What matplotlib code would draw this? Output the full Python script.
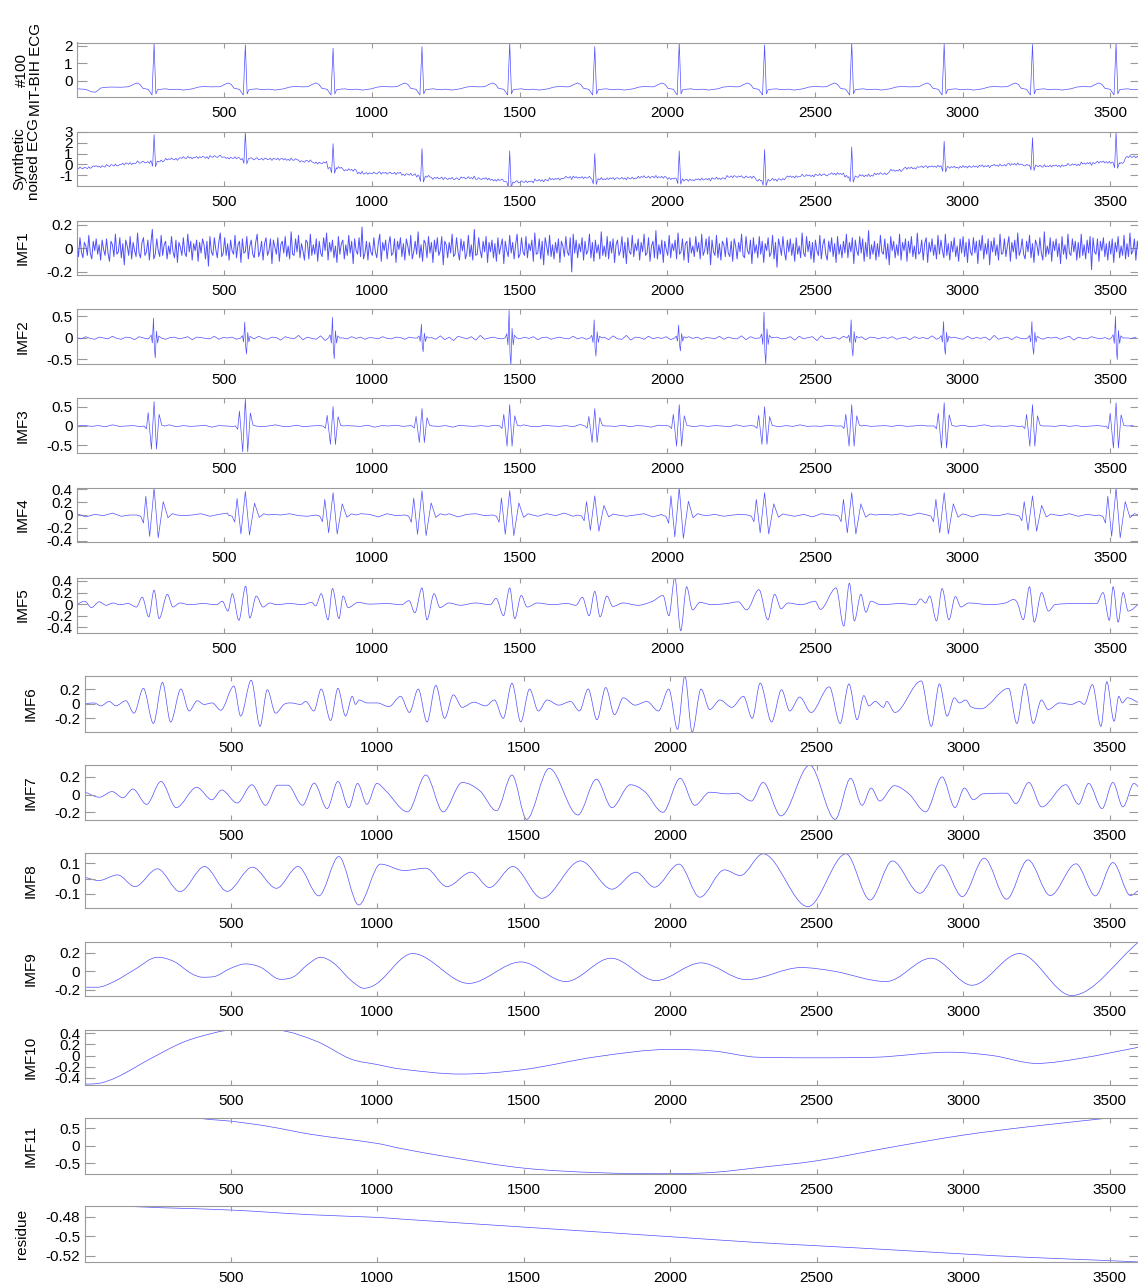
import numpy as np
import matplotlib.pyplot as plt
from matplotlib.path import Path
from matplotlib.patches import PathPatch

plt.rcParams['font.family'] = ['Liberation Sans', 'DejaVu Sans']
plt.rcParams['axes.unicode_minus'] = False

W, H = 1138, 1287
BLUE = '#5050ff'
GRAY = '#9a9a9a'
LW = 0.5

# R-peak sample positions of the record segment
beats = [262, 571, 868, 1169, 1466, 1754, 2040, 2329, 2624, 2937, 3236, 3519]

# --- clean ECG: one beat shape around each R peak ---
ecg_peak = [2.10, 2.04, 1.85, 1.94, 2.13, 1.94, 2.17, 2.04, 2.17, 2.10, 2.06, 2.13]
ecg_lead = [(1, -0.45), (30, -0.48), (50, -0.62), (64, -0.64), (82, -0.40),
            (110, -0.35), (150, -0.36), (172, -0.34)]
ecg_off = [-85, -70, -58, -48, -38, -20, -7, 6, 12, 25, 40, 55, 80, 100, 130, 150, 170, 194]
ecg_val = [-0.33, -0.20, -0.12, -0.20, -0.42, -0.48, -0.80, -0.74, -0.50, -0.47,
           -0.45, -0.50, -0.47, -0.52, -0.45, -0.35, -0.32, -0.34]

# --- noised ECG: local level every 50 samples, R peaks ---
noisy_level = [-0.32, -0.18, -0.08, 0.08, 0.20, 0.30, 0.50, 0.62, 0.66, 0.72,
               0.60, 0.55, 0.50, 0.50, 0.45, 0.30, 0.15, -0.30, -0.50, -0.80,
               -0.78, -0.80, -0.92, -1.10, -1.25, -1.30, -1.22, -1.30, -1.42, -1.60,
               -1.58, -1.45, -1.32, -1.18, -1.20, -1.33, -1.28, -1.27, -1.15, -1.15,
               -1.30, -1.42, -1.36, -1.28, -1.10, -1.15, -1.45, -1.38, -1.12, -1.02,
               -0.95, -0.85, -1.12, -1.02, -0.85, -0.55, -0.33, -0.20, -0.18, -0.25,
               -0.20, -0.15, -0.08, 0.02, -0.05, -0.15, -0.12, -0.02, 0.10, 0.22,
               0.15, 0.70]
noisy_peak = [2.73, 2.97, 1.90, 1.45, 1.24, 1.00, 1.24, 1.36, 1.60, 2.12, 2.45, 2.97]

# --- IMF1, every 5 samples (x 0.01) ---
imf1 = [4, -7, 9, -3, -8, 5, 2, -6, 11, -4, -9, 6, -2, 8, -5, 3, -10, 7, -1, -6,
        8, -4, -11, 6, 3, -7, 12, -5, -3, 9, -8, 4, -14, 7, 2, -6, 10, -9, 5, -2,
        -7, 13, -4, -8, 5, 9, -6, -3, 7, -10, 4, 16, -9, -5, 8, -2, -7, 11, -6, 3,
        6, -9, 2, -5, 10, -3, -8, 7, -12, 5, 1, -6, 9, -4, -7, 12, -3, 6, -10, 4,
        -2, 7, -11, 5, -4, 8, 3, -9, 6, -15, 10, -3, -6, 9, -1, -8, 5, 13, -7, -4,
        9, -6, 4, -10, 7, -2, -5, 11, -8, 3, 6, -12, 8, -4, -3, 10, -9, 2, 7, -5,
        -8, 5, 12, -7, -3, 6, -10, 4, 9, -6, -2, 8, -13, 7, 1, -5, 9, -11, 3, 6,
        -4, 10, -7, 2, -9, 14, -5, -6, 8, -3, 11, -8, 4, -2, -10, 7, 5, -9, 12, -6,
        3, -5, 8, -11, 6, -4, -7, 9, -2, 13, -10, 5, -3, 7, -8, 2, -12, 10, -5, 4,
        7, -9, 3, -6, 11, -4, 6, -13, 8, -2, -5, 9, -7, 18, -9, -4, 6, -10, 5, -3,
        -6, 9, -3, -8, 4, 12, -11, 5, -2, 7, -9, 3, 10, -6, -4, 8, -12, 6, -1, 9,
        -7, 4, -10, 8, 2, -6, 11, -9, -3, 6, -5, 14, -8, 3, -11, 7, 4, -8, 10, -4,
        5, -12, 7, -3, 9, -6, -2, 10, -14, 6, 3, -8, 5, -4, 12, -7, -5, 9, -3, -10,
        8, -2, 6, -9, -4, 11, -7, 3, -10, 16, -6, -5, 9, -2, -8, 6, -3, 10, -12, 5,
        -3, 7, -8, 4, -11, 9, -5, 2, 8, -13, 6, -2, -7, 11, -4, 5, -9, 3, 12, -8,
        -5, 9, -3, -6, 10, -8, 4, -2, 7, -11, 13, -5, -4, 8, -9, 6, -14, 9, 2, -6,
        11, -7, 3, -9, 5, -4, 8, -12, 6, 2, -7, 10, -3, -6, 9, -20, 12, -4, 7, -8,
        4, -3, 9, -10, 6, -5, -2, 12, -8, 5, -11, 7, -4, 3, -9, 14, -6, 2, -7, 10,
        -9, 6, -4, 8, -12, 3, 7, -6, -2, 10, -8, 5, -13, 9, -3, -5, 11, -7, 4, -2,
        8, -10, 5, -3, 12, -6, -4, 9, -11, 2, 6, -8, 15, -9, 3, -5, 7, -12, 6, -1,
        -6, 11, -8, 4, -2, 7, -9, 13, -5, -3, 8, -10, 4, 6, -12, 9, -4, 2, -7, 10,
        -3, 5, -9, 12, -6, -2, 8, -5, 10, -14, 7, -3, -6, 11, -8, 4, -10, 6, 3, -7,
        9, -4, -7, 6, -11, 8, 2, -9, 5, -3, 12, -6, -8, 10, -2, -5, 7, -13, 9, -4,
        3, -8, 10, -5, 6, -12, 4, -2, 9, -7, -4, 11, -9, 5, -16, 8, 2, -6, 10, -3,
        -10, 7, -3, 8, -6, 4, -11, 9, -5, 2, -8, 13, -4, -7, 10, -3, 6, -9, 5, -12,
        7, -2, -6, 11, -9, 3, 8, -5, -10, 6, -3, 9, -7, 4, -12, 10, -5, 3, -8, 6,
        -4, 12, -8, 5, -3, 9, -13, 7, -2, -6, 10, -4, 8, -11, 5, -7, 15, -9, 3, -5,
        6, -10, 4, -7, 11, -3, -5, 8, -9, 4, -14, 10, -2, 6, -8, 3, -6, 12, -10, 5,
        -2, 8, -11, 6, -4, 10, -7, 2, -9, 13, -5, -3, 7, -10, 4, 9, -12, 5, -3, 8,
        -6, 3, -9, 11, -5, 7, -2, -8, 12, -6, 4, -10, 6, -3, 9, -7, 2, -11, 8, -4,
        10, -7, 5, -12, 8, -3, -6, 9, -4, 6, -13, 7, -2, 11, -9, 4, -5, 8, -14, 6,
        -3, 9, -6, 3, -10, 12, -5, -4, 8, -7, 2, 10, -11, 5, -3, 7, -9, 13, -6, -2,
        8, -5, -9, 6, -3, 11, -8, 4, -12, 7, 3, -6, 9, -4, -10, 14, -7, 2, -5, 9,
        -11, 6, -2, 8, -7, 4, -13, 10, -5, 3, -9, 12, -4, -6, 8, -3, 6, -10, 5, -8,
        12, -6, 3, -9, 7, -4, 10, -18, 9, -3, -5, 8, -11, 6, -2, 9, -7, 4, -10, 6,
        -5, 8, -12, 5, -3, 10, -8, 2, -6, 11, -9, 4, -7, 13, -5, -2, 8, -10, 6, -4]

# --- IMF2: background every 15 samples (x 0.01) and QRS bursts ---
imf2_bg = [1, -2, 3, -1, -3, 2, 0, -2, 4, -1, -3, 2, 1, -4, 3, 0, -2, 2, -1, 3,
           -3, 1, 2, -2, 0, 3, -4, 2, 1, -1, -2, 4, -3, 1, 0, 2, -3, 1, 2, -1,
           -2, 4, -1, -3, 2, 1, -5, 3, 0, -2, 6, -4, 2, -1, -3, 5, -6, 4, -2, 1,
           0, -2, 3, -1, 2, -3, 1, 0, -2, 3, -1, -2, 2, 1, -3, 2, 0, -1, 3, -2,
           1, -3, 5, -4, 2, -6, 4, 1, -2, 3, -5, 6, -3, 0, 2, -1, -2, 3, -1, 1,
           -2, 2, -1, 3, -4, 1, 2, -3, 0, 2, -1, -2, 4, -2, 1, -3, 2, 0, -1, 2,
           -4, 5, -2, -3, 6, -5, 2, 1, -3, 4, -2, 1, -1, 3, -4, 2, 0, -2, 3, -1,
           2, -3, 1, 0, -2, 4, -3, 2, -1, -2, 5, -4, 3, -1, 0, 2, -3, 1, 2, -2,
           -1, 3, -5, 4, -2, 1, 3, -6, 5, -2, -1, 2, -3, 4, -1, 0, -2, 3, -4, 2,
           1, -2, 2, -1, 3, -3, 0, 2, -4, 3, -1, 1, -2, 5, -3, 1, 0, -2, 2, -1,
           -3, 4, -2, 1, -1, 2, -5, 6, -3, 0, 2, -4, 3, -1, -2, 3, -1, 2, -3, 1,
           0, 2, -3, 1, 4, -5, 2, -1, -2, 3, 0, -2, 1, -3, 4, -2, 1, 0, -1, 2]
imf2_off = [-16, -10, -6, -2, 1, 4, 8, 12, 16, 24]
imf2_shape = [0.0, 0.15, -0.25, 1.0, -0.55, -1.0, 0.35, -0.25, 0.10, 0.0]
imf2_amp = [0.46, 0.37, 0.48, 0.32, 0.64, 0.42, 0.30, 0.60, 0.42, 0.38, 0.38, 0.50]

# --- IMF3 ---
imf3_bg = [0, 2, -1, 1, -2, 3, -1, 0, 1, -2, 2, 0, -1, 3, -2,
           1, -1, 0, 2, -3, 1, 0, -1, 2, -1, 1, -2, 0, 3, -1,
           -1, 2, -2, 0, 1, -1, 3, -2, 1, 0, -1, 2, -3, 1, 0,
           2, -1, 1, -2, 0, 2, -1, 1, -3, 2, 0, -1, 1, -1, 2,
           -2, 1, 0, 3, -1, -2, 2, 0, -1, 1, -2, 4, -1, 0, 1,
           0, -1, 2, -2, 1, 0, -3, 2, 1, -1, 0, 2, -2, 1, -1,
           1, 0, -2, 3, -1, 1, -1, 0, 2, -2, 1, -1, 3, -1, 0,
           -1, 2, 0, -1, 1, -3, 2, -1, 0, 1, -1, 2, -1, 0, 2,
           0, -2, 1, 1, -1, 2, -2, 0, 3, -1, 0, -1, 1, -2, 1,
           2, -1, 0, -1, 2, -1, 1, -2, 0, 1, -1, 2, 0, -2, 1]
imf3_off = [-34, -26, -20, -9, 0, 8, 17, 26, 36]
imf3_shape = [0.0, -0.12, 0.55, -0.95, 1.0, -0.95, 0.48, 0.03, 0.0]
imf3_amp = [0.63, 0.70, 0.50, 0.45, 0.55, 0.45, 0.55, 0.50, 0.55, 0.60, 0.55, 0.60]

# --- IMF4 ---
imf4_bg = [2, -3, 1, -1, 3, -2, 0, 2, -1, 1, -3, 2, -1, 0, 2,
           -2, 1, 3, -2, -1, 2, -3, 1, 0, 2, -1, -2, 3, -1, 1,
           0, -2, 2, 1, -3, 2, -1, 0, 3, -2, 1, -1, 2, -3, 1,
           2, -1, -2, 3, -1, 1, 0, -2, 2, -1, 3, -2, 0, 1, -1,
           -1, 3, -2, 0, 2, -3, 1, 2, -1, -2, 3, -1, 1, -2, 0,
           1, -2, 3, -1, 0, 2, -2, 1, -3, 2, 0, -1, 2, -2, 1,
           -2, 1, 0, 2, -1, 3, -2, 0, 1, -1, 2, -3, 1, 0, -1,
           2, -1, 1, -3, 2, 0, -1, 2, -2, 1, -1, 3, -2, 1, 0]
imf4_off = [-58, -45, -36, -28, -15, 0, 14, 31, 47, 62, 78]
imf4_shape = [0.0, -0.05, -0.30, 0.70, -0.80, 1.0, -0.85, 0.50, -0.10, 0.05, 0.0]
imf4_amp = [0.42, 0.37, 0.35, 0.38, 0.38, 0.30, 0.43, 0.35, 0.35, 0.35, 0.30, 0.42]

# --- IMF5 .. residue: turning points (sample, value) ---
imf5 = [(1, 0.0), (27, 0.05), (50, -0.06), (76, 0.04), (100, -0.02), (123, 0.02), (146, -0.01),
        (174, 0.01), (202, -0.05), (222, 0.12), (244, -0.22), (262, 0.24), (279, -0.25),
        (307, 0.17), (326, -0.05), (349, 0.02), (383, -0.01), (428, 0.01), (473, -0.01),
        (493, 0.05), (512, -0.12), (527, 0.18), (549, -0.28), (572, 0.31), (586, -0.24),
        (608, 0.14), (631, -0.05), (654, 0.02), (676, -0.01), (721, 0.01), (766, -0.01),
        (795, 0.03), (809, -0.03), (828, 0.18), (851, -0.27), (866, 0.27), (888, -0.25),
        (902, 0.14), (919, -0.06), (953, 0.03), (992, 0.0), (1049, 0.01), (1100, -0.01),
        (1125, 0.06), (1145, -0.15), (1169, 0.28), (1186, -0.27), (1210, 0.18), (1230, -0.06),
        (1260, 0.02), (1300, -0.02), (1350, 0.02), (1400, -0.01), (1420, 0.10), (1445, -0.20),
        (1466, 0.28), (1483, -0.25), (1505, 0.15), (1525, -0.05), (1560, 0.02), (1610, -0.01),
        (1660, 0.01), (1690, -0.02), (1712, 0.12), (1735, -0.20), (1754, 0.22), (1772, -0.22),
        (1795, 0.14), (1815, -0.04), (1850, 0.02), (1900, -0.02), (1950, 0.05), (1985, 0.15),
        (2005, -0.20), (2025, 0.46), (2045, -0.46), (2065, 0.30), (2085, -0.10), (2110, 0.03),
        (2150, -0.01), (2200, 0.01), (2240, 0.04), (2268, -0.10), (2310, 0.25), (2340, -0.27),
        (2363, 0.17), (2385, -0.08), (2408, 0.02), (2453, -0.01), (2500, 0.05), (2518, -0.09),
        (2571, 0.28), (2597, -0.38), (2616, 0.36), (2633, -0.29), (2655, 0.17), (2672, -0.14),
        (2689, 0.05), (2722, -0.01), (2790, 0.01), (2840, -0.01), (2857, 0.09), (2874, 0.02),
        (2888, 0.14), (2911, -0.29), (2930, 0.27), (2953, -0.27), (2975, 0.13), (2994, -0.05),
        (3020, 0.02), (3093, -0.01), (3144, 0.02), (3172, 0.08), (3185, 0.02), (3205, -0.27),
        (3226, 0.30), (3242, -0.31), (3267, 0.20), (3290, -0.12), (3312, -0.01), (3380, 0.01),
        (3453, 0.01), (3475, 0.20), (3496, -0.28), (3509, 0.30), (3526, -0.31), (3543, 0.20),
        (3560, -0.12), (3600, 0.02)]

imf6 = [(1, 0.0), (34, 0.01), (57, -0.03), (85, 0.03), (108, -0.03), (142, 0.04), (170, -0.13),
        (202, 0.21), (236, -0.27), (267, 0.29), (295, -0.25), (330, 0.20), (358, -0.10),
        (386, 0.04), (409, -0.01), (437, 0.01), (466, -0.09), (511, 0.24), (534, -0.17),
        (570, 0.32), (600, -0.31), (625, 0.19), (653, -0.13), (682, -0.01), (705, 0.01),
        (739, -0.01), (756, 0.03), (784, -0.10), (809, 0.20), (841, -0.23), (866, 0.21),
        (892, -0.17), (915, 0.10), (926, -0.01), (938, 0.05), (966, 0.01), (1000, 0.01),
        (1040, -0.04), (1080, 0.10), (1110, -0.12), (1140, 0.20), (1170, -0.25), (1200, 0.25),
        (1230, -0.20), (1260, 0.12), (1290, -0.05), (1330, 0.02), (1370, -0.03), (1400, 0.05),
        (1430, -0.20), (1460, 0.28), (1490, -0.25), (1520, 0.20), (1550, -0.10), (1580, 0.05),
        (1620, -0.02), (1660, 0.03), (1690, -0.10), (1720, 0.20), (1750, -0.22), (1780, 0.22),
        (1810, -0.15), (1840, 0.08), (1880, -0.02), (1920, 0.03), (1960, -0.10), (1995, 0.20),
        (2025, -0.35), (2050, 0.38), (2075, -0.39), (2105, 0.20), (2135, -0.08), (2170, 0.05),
        (2210, -0.05), (2250, 0.10), (2280, -0.20), (2307, 0.28), (2346, -0.25), (2380, 0.19),
        (2408, -0.10), (2442, 0.09), (2481, -0.12), (2543, 0.23), (2580, -0.27), (2610, 0.27),
        (2638, -0.22), (2661, 0.11), (2678, -0.03), (2700, 0.03), (2728, -0.05), (2739, 0.03),
        (2767, -0.12), (2857, 0.31), (2891, -0.31), (2919, 0.27), (2945, -0.17), (2970, 0.08),
        (2987, 0.01), (3009, 0.05), (3026, -0.04), (3060, -0.07), (3155, 0.21), (3183, -0.27),
        (3211, 0.27), (3239, -0.27), (3267, 0.05), (3290, -0.08), (3329, 0.01), (3369, -0.01),
        (3397, 0.03), (3413, -0.01), (3441, 0.26), (3470, -0.31), (3490, 0.30), (3515, -0.24),
        (3531, 0.10), (3543, 0.01), (3560, 0.08), (3600, 0.01)]

imf7 = [(1, 0.03), (52, -0.03), (95, 0.033), (132, -0.037), (166, 0.062), (213, -0.11),
        (262, 0.147), (314, -0.147), (384, 0.081), (436, -0.059), (469, 0.051), (522, -0.095),
        (572, 0.11), (619, -0.121), (660, 0.105), (695, 0.105), (745, -0.121), (785, 0.128),
        (829, -0.158), (866, 0.147), (903, -0.147), (933, 0.125), (965, -0.11), (999, 0.125),
        (1030, 0.04), (1104, -0.195), (1166, 0.22), (1225, -0.195), (1290, 0.136), (1351, 0.04),
        (1407, -0.183), (1460, 0.22), (1510, -0.279), (1587, 0.294), (1685, -0.23), (1748, 0.172),
        (1801, -0.147), (1864, 0.11), (1914, 0.03), (1975, -0.2), (2034, 0.183), (2084, -0.121),
        (2135, 0.026), (2198, 0.007), (2227, 0.015), (2277, -0.073), (2317, 0.136), (2378, -0.24),
        (2476, 0.33), (2563, -0.279), (2616, 0.183), (2655, -0.121), (2686, 0.073), (2715, -0.073),
        (2765, 0.099), (2815, 0.007), (2872, -0.195), (2928, 0.198), (2972, -0.147), (3004, 0.073),
        (3035, -0.059), (3067, 0.007), (3149, 0.015), (3180, -0.103), (3224, 0.136), (3268, -0.139),
        (3350, 0.11), (3394, -0.11), (3428, 0.125), (3474, -0.158), (3511, 0.136), (3545, -0.139),
        (3583, 0.125), (3600, 0.08)]

imf8 = [(1, 0.009), (50, -0.013), (114, 0.024), (173, -0.053), (250, 0.064), (327, -0.086),
        (411, 0.079), (488, -0.084), (574, 0.075), (656, -0.064), (730, 0.079), (801, -0.114),
        (869, 0.145), (937, -0.174), (1011, 0.095), (1092, 0.053), (1166, 0.068), (1238, -0.053),
        (1321, 0.042), (1383, -0.059), (1463, 0.079), (1562, -0.13), (1694, 0.116), (1801, -0.07),
        (1883, 0.042), (1946, -0.057), (2030, 0.095), (2101, -0.123), (2185, 0.057), (2239, 0.02),
        (2317, 0.163), (2470, -0.185), (2600, 0.163), (2682, -0.141), (2758, 0.116), (2852, -0.097),
        (2927, 0.09), (2997, -0.119), (3072, 0.134), (3148, -0.136), (3221, 0.123), (3297, -0.112),
        (3385, 0.097), (3451, -0.114), (3511, 0.105), (3571, -0.112), (3600, -0.075)]

imf9 = [(1, -0.171), (45, -0.171), (102, -0.11), (170, 0.014), (250, 0.15), (307, 0.104),
        (364, -0.021), (405, -0.064), (443, -0.057), (500, 0.032), (551, 0.079), (602, 0.043),
        (670, -0.086), (716, -0.057), (761, 0.068), (807, 0.15), (852, 0.086), (909, -0.093),
        (955, -0.182), (1000, -0.129), (1121, 0.19), (1312, -0.13), (1490, 0.10), (1644, -0.11),
        (1798, 0.14), (1951, -0.10), (2105, 0.09), (2259, -0.09), (2447, 0.04), (2560, 0.0),
        (2737, -0.11), (2891, 0.14), (3030, -0.15), (3192, 0.19), (3370, -0.26), (3600, 0.317)]

imf10 = [(1, -0.51), (45, -0.50), (114, -0.38), (227, -0.054), (341, 0.245), (455, 0.42),
         (500, 0.455), (580, 0.465), (659, 0.455), (795, 0.25), (909, -0.06), (1000, -0.16),
         (1080, -0.24), (1285, -0.33), (1500, -0.25), (1750, -0.02), (2000, 0.11), (2150, 0.08),
         (2300, -0.03), (2500, -0.04), (2700, -0.03), (2950, 0.06), (3100, 0.0), (3250, -0.14),
         (3400, -0.05), (3600, 0.15)]

imf11 = [(1, 0.81), (358, 0.81), (432, 0.75), (500, 0.705), (625, 0.56), (773, 0.33),
         (1000, 0.067), (1080, -0.076), (1250, -0.33), (1500, -0.64), (1750, -0.77),
         (2000, -0.80), (2150, -0.76), (2306, -0.62), (2500, -0.43), (2762, -0.03),
         (3000, 0.305), (3218, 0.54), (3480, 0.78), (3500, 0.81), (3600, 0.81)]

residue = [(1, -0.4689), (142, -0.4695), (267, -0.4709), (500, -0.4732), (773, -0.478),
           (1000, -0.4807), (1080, -0.4824), (1500, -0.4906), (2000, -0.5004), (2306, -0.5065),
           (2500, -0.5096), (2762, -0.5139), (3000, -0.518), (3218, -0.5214), (3500, -0.5248),
           (3600, -0.5262)]

# panel labels, y limits, y ticks
labels = ['#100\nMIT-BIH ECG', 'Synthetic\nnoised ECG', 'IMF1', 'IMF2', 'IMF3', 'IMF4', 'IMF5',
          'IMF6', 'IMF7', 'IMF8', 'IMF9', 'IMF10', 'IMF11', 'residue']
ylims = [(-0.93, 2.17), (-1.97, 2.97), (-0.226, 0.234), (-0.605, 0.667), (-0.706, 0.716),
         (-0.428, 0.428), (-0.49, 0.46), (-0.387, 0.378), (-0.29, 0.338), (-0.196, 0.167),
         (-0.265, 0.317), (-0.52, 0.465), (-0.817, 0.81), (-0.5265, -0.4689)]
yticks = [[0, 1, 2], [-1, 0, 1, 2, 3], [-0.2, 0, 0.2], [-0.5, 0, 0.5], [-0.5, 0, 0.5],
          [-0.4, -0.2, 0, 0.2, 0.4], [-0.4, -0.2, 0, 0.2, 0.4], [-0.2, 0, 0.2], [-0.2, 0, 0.2],
          [-0.1, 0, 0.1], [-0.2, 0, 0.2], [-0.4, -0.2, 0, 0.2, 0.4], [-0.5, 0, 0.5],
          [-0.52, -0.5, -0.48]]
xticks = [500, 1000, 1500, 2000, 2500, 3000, 3500]

# axes boxes in pixels: top, bottom; left/right per group
tops = [42.5, 131.7, 220.7, 309.3, 398.3, 487.7, 577.5, 676.0, 764.5, 853.2, 941.7, 1029.5, 1117.5, 1205.8]
bottoms = [97.3, 186.0, 275.0, 364.0, 453.3, 542.3, 632.5, 732.0, 820.3, 908.3, 996.0, 1084.7, 1174.3, 1262.3]
label_x = [29, 27, 23, 23, 23, 23, 23, 30.5, 30.5, 30.5, 30.5, 30.5, 30.5, 22]


def add_bursts(bx, by, offs, shape, amps):
    bx = np.asarray(bx, float)
    by = np.asarray(by, float)
    keep = np.ones(bx.size, bool)
    for b in beats:
        keep &= (bx < b + offs[0]) | (bx > b + offs[-1])
    xs, ys = [bx[keep]], [by[keep]]
    for b, a in zip(beats, amps):
        xs.append(b + np.asarray(offs, float))
        ys.append(a * np.asarray(shape, float))
    x = np.concatenate(xs)
    y = np.concatenate(ys)
    order = np.argsort(x, kind='stable')
    x, y = x[order], y[order]
    inside = (x >= 1) & (x <= 3600)
    return x[inside], y[inside]


def smooth_line(ax, pts):
    x = np.array([p[0] for p in pts], float)
    y = np.array([p[1] for p in pts], float)
    n = len(x)
    d = np.diff(y) / np.diff(x)
    m = np.zeros(n)
    m[0], m[-1] = d[0], d[-1]
    for i in range(1, n - 1):
        if d[i - 1] * d[i] > 0:
            cr = (y[i + 1] - y[i - 1]) / (x[i + 1] - x[i - 1])
            m[i] = np.sign(d[i]) * min(abs(cr), 3 * min(abs(d[i - 1]), abs(d[i])))
    verts = [(x[0], y[0])]
    codes = [Path.MOVETO]
    for i in range(n - 1):
        h = x[i + 1] - x[i]
        verts += [(x[i] + h / 3, y[i] + m[i] * h / 3),
                  (x[i + 1] - h / 3, y[i + 1] - m[i + 1] * h / 3),
                  (x[i + 1], y[i + 1])]
        codes += [Path.CURVE4] * 3
    ax.add_patch(PathPatch(Path(verts, codes), fill=False, edgecolor=BLUE, lw=LW,
                           joinstyle='round'))


fig = plt.figure(figsize=(W / 100, H / 100), dpi=100)
axes = []
for i in range(14):
    left, right = (77.0, 1140.0) if i < 7 else (84.5, 1139.0)
    t, b = tops[i], bottoms[i]
    ax = fig.add_axes([left / W, 1 - b / H, (right - left) / W, (b - t) / H])
    ax.set_xlim(1, 3600)
    ax.set_ylim(*ylims[i])
    ax.set_xticks(xticks, [str(v) for v in xticks])
    ax.set_yticks(yticks[i], ['%g' % v for v in yticks[i]])
    ax.tick_params(direction='in', top=True, right=True, color=GRAY, width=0.8,
                   labelsize=11, labelcolor='black')
    ax.tick_params(axis='x', length=3.6, pad=6.5)
    ax.tick_params(axis='y', length=7.0, pad=3)
    for sp in ax.spines.values():
        sp.set_color(GRAY)
        sp.set_linewidth(0.8)
    ax.set_ylabel(labels[i], fontsize=11, ha='center', va='center', linespacing=1.05,
                  rotation_mode='default')
    ax.yaxis.set_label_coords((label_x[i] - left) / (right - left), 0.5)
    axes.append(ax)

# clean ECG
ex = [p[0] for p in ecg_lead]
ey = [p[1] for p in ecg_lead]
for b, pk in zip(beats, ecg_peak):
    pts = sorted(list(zip([b + o for o in ecg_off], ecg_val)) + [(b, pk)])
    for px, py in pts:
        if px <= 3600:
            ex.append(px)
            ey.append(py)
axes[0].plot(ex, ey, color=BLUE, lw=LW)

# noised ECG = local level + IMF1 + QRS complexes
grid = 1 + 5 * np.arange(len(imf1))
noise = np.array(imf1) / 100.0
level = np.repeat(noisy_level, 10)
ny = level + noise
keep = np.ones(grid.size, bool)
qrs_off = [-10, -5, 0, 5, 11]
qrs_rel = [0.0, -0.45, None, -0.5, 0.0]
for b in beats:
    keep &= (grid < b + qrs_off[0]) | (grid > b + qrs_off[-1])
nx_list, ny_list = [grid[keep].astype(float)], [ny[keep]]
for b, pk in zip(beats, noisy_peak):
    lvl = level[min(int((b - 1) // 5), level.size - 1)]
    nx_list.append(np.array([b + o for o in qrs_off], float))
    ny_list.append(np.array([pk if r is None else lvl + r for r in qrs_rel], float))
nx = np.concatenate(nx_list)
nyy = np.concatenate(ny_list)
order = np.argsort(nx, kind='stable')
nx, nyy = nx[order], nyy[order]
inside = nx <= 3600
axes[1].plot(nx[inside], nyy[inside], color=BLUE, lw=LW)

# IMF1 (dense high-frequency band, drawn slightly heavier)
axes[2].plot(grid, noise, color=BLUE, lw=0.7)

# IMF2 - IMF4: background ripple with bursts at the beats
x2, y2 = add_bursts(1 + 15 * np.arange(len(imf2_bg)), np.array(imf2_bg) / 100.0,
                    imf2_off, imf2_shape, imf2_amp)
axes[3].plot(x2, y2, color=BLUE, lw=LW)
x3, y3 = add_bursts(1 + 24 * np.arange(len(imf3_bg)), np.array(imf3_bg) / 100.0,
                    imf3_off, imf3_shape, imf3_amp)
axes[4].plot(x3, y3, color=BLUE, lw=LW)
x4, y4 = add_bursts(1 + 30 * np.arange(len(imf4_bg)), np.array(imf4_bg) / 100.0,
                    imf4_off, imf4_shape, imf4_amp)
axes[5].plot(x4, y4, color=BLUE, lw=LW)

# slower modes drawn as smooth curves through their turning points
for ax, pts in zip(axes[6:], [imf5, imf6, imf7, imf8, imf9, imf10, imf11, residue]):
    smooth_line(ax, pts)

fig.savefig('out.png', dpi=100)
